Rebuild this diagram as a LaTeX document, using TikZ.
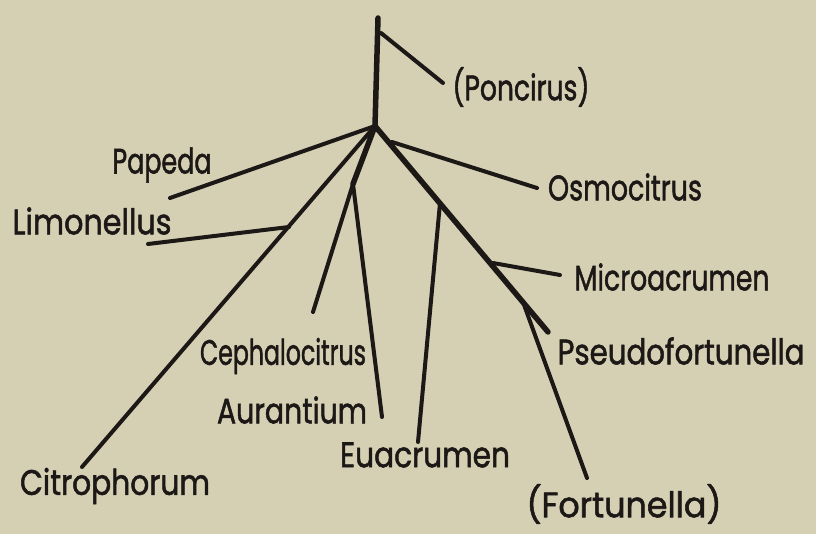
\documentclass[tikz,border=0pt]{standalone}
\usepackage{graphicx}
\usepackage{fontspec}
\newfontfamily\handfont{Poppins}[FakeBold=1.6]
\definecolor{paper}{RGB}{213,207,180}
\definecolor{ink}{RGB}{28,24,22}
\newcommand{\lab}[2]{\resizebox{#1pt}{1.22\height}{#2}}
\begin{document}
\begin{tikzpicture}[x=1pt,y=-1pt,
  branch/.style={draw=ink,line width=4pt,line cap=round,line join=round},
  trunk/.style={branch,line width=5.5pt},
  lbl/.style={text=ink,font=\handfont\fontsize{29}{32}\selectfont,inner sep=0pt,anchor=center}]
\fill[paper] (0,0) rectangle (816,534);
\useasboundingbox (0,0) rectangle (816,534);
% coordinates
\coordinate (top) at (378,18);
\coordinate (root) at (375,126);
\coordinate (pon) at (443,83);
\coordinate (ponb) at (381,33);
\coordinate (pap) at (170,198);
\coordinate (cit) at (82,467);
\coordinate (limj) at (289,227);
\coordinate (lim) at (148,244);
\coordinate (cenj) at (353,184);
\coordinate (cep) at (313,312);
\coordinate (aur) at (382,417);
\coordinate (rmain) at (548,332);
\coordinate (osmj) at (392,142);
\coordinate (osm) at (537,188);
\coordinate (euaj) at (440,203);
\coordinate (eua) at (418,442);
\coordinate (micj) at (493,263);
\coordinate (mic) at (560,275);
\coordinate (forj) at (523,302);
\coordinate (for) at (587,478);
% branches
\draw[trunk] (top) -- (root);
\draw[branch] (ponb) -- (pon);
\draw[branch] (root) -- (pap);
\draw[branch] (root) -- (cit);
\draw[branch] (limj) -- (lim);
\draw[trunk] (root) -- (cenj);
\draw[branch] (cenj) -- (cep);
\draw[branch] (cenj) -- (aur);
\draw[trunk] (root) -- (rmain);
\draw[branch] (osmj) -- (osm);
\draw[branch] (euaj) -- (eua);
\draw[branch] (micj) -- (mic);
\draw[branch] (forj) -- (for);
% labels
\node[lbl] (lpon) at (521,87) {\lab{137}{(Poncirus)}};
\node[lbl] (lpap) at (162,165) {\lab{99}{Papeda}};
\node[lbl] (llim) at (92,221) {\lab{159}{Limonellus}};
\node[lbl] (lcep) at (283,356) {\lab{166}{Cephalocitrus}};
\node[lbl] (laur) at (292,410) {\lab{150}{Aurantium}};
\node[lbl] (lcit) at (115,486) {\lab{190}{Citrophorum}};
\node[lbl] (leua) at (425,455) {\lab{170}{Euacrumen}};
\node[lbl] (losm) at (625,187) {\lab{154}{Osmocitrus}};
\node[lbl] (lmic) at (672,277) {\lab{195}{Microacrumen}};
\node[lbl] (lpse) at (681,351) {\lab{247}{Pseudofortunella}};
\node[lbl] (lfor) at (624,504) {\lab{195}{(Fortunella)}};
\end{tikzpicture}
\end{document}
